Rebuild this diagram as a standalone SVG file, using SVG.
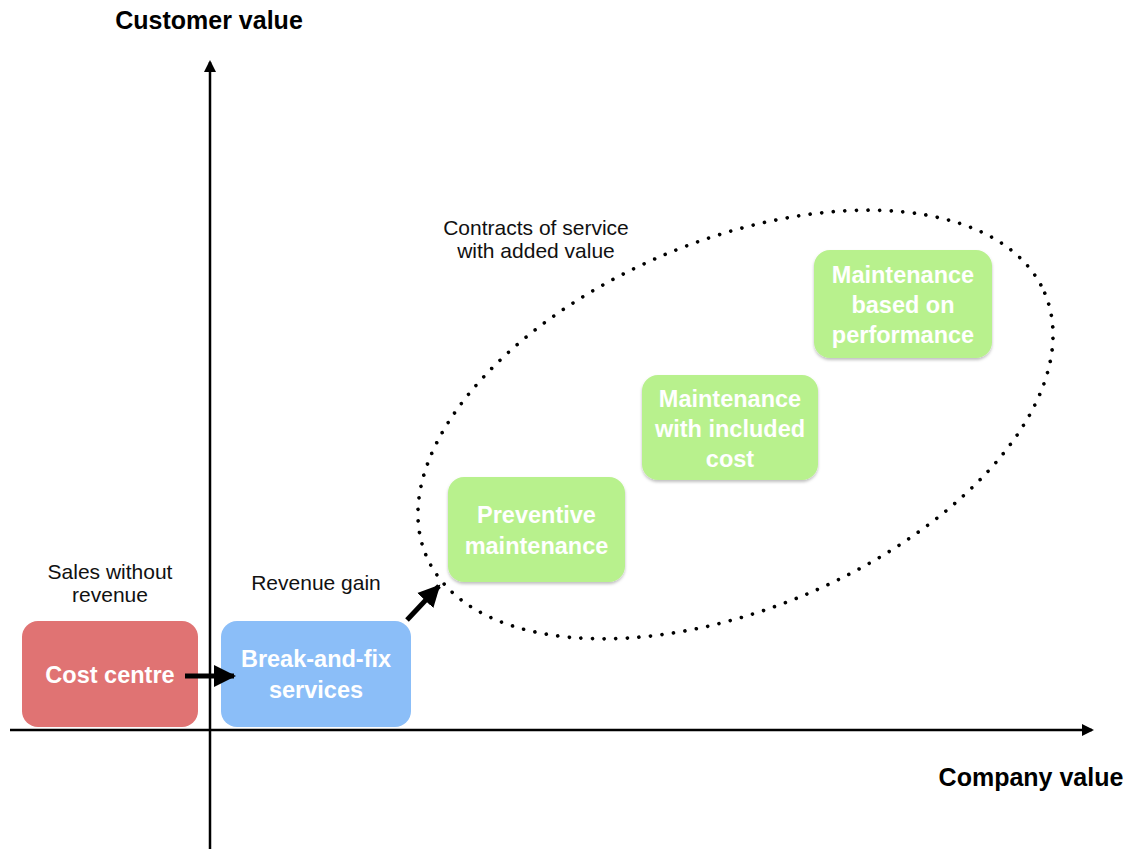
<svg xmlns="http://www.w3.org/2000/svg" width="1131" height="849" viewBox="0 0 1131 849">
<style>
.lbl{font-family:"Liberation Sans",Arial,sans-serif;font-size:21px;fill:#111;text-anchor:middle}
.axis{font-family:"Liberation Sans",Arial,sans-serif;font-size:25px;font-weight:bold;fill:#000;text-anchor:middle}
.nt{font-family:"Liberation Sans",Arial,sans-serif;font-size:23.5px;font-weight:bold;fill:#fff;text-anchor:middle}
.ax{stroke:#000;stroke-width:2.5;fill:none}
.conn{stroke:#000;stroke-width:5;fill:none}
</style>
<defs>
<marker id="axh" markerWidth="12" markerHeight="12" refX="10" refY="6" orient="auto" markerUnits="userSpaceOnUse"><path d="M0,0 L12,6 L0,12 Z" fill="#000"/></marker>
<marker id="ah" markerWidth="24" markerHeight="24" refX="20" refY="12" orient="auto" markerUnits="userSpaceOnUse"><path d="M0,1 L22,12 L0,23 Z" fill="#000"/></marker>
<filter id="sh" x="-10%" y="-10%" width="120%" height="130%"><feDropShadow dx="0" dy="2" stdDeviation="1.5" flood-color="#000" flood-opacity="0.25"/></filter>
</defs>
<rect width="1131" height="849" fill="#fff"/>
<g id="axes">
<line class="ax" x1="210" y1="849" x2="210" y2="62" marker-end="url(#axh)"/>
<line class="ax" x1="10" y1="730" x2="1092" y2="730" marker-end="url(#axh)"/>
<text class="axis" x="209" y="29">Customer value</text>
<text class="axis" x="1031" y="786">Company value</text>
</g>
<g id="contracts-group">
<ellipse cx="735.5" cy="424.5" rx="336" ry="184" transform="rotate(-23 735.5 424.5)" fill="none" stroke="#000" stroke-width="3.6" stroke-linecap="round" stroke-dasharray="0 11.6"/>
<text class="lbl" x="536" y="235">Contracts of service</text>
<text class="lbl" x="536" y="258">with added value</text>
</g>
<g id="label-sales">
<text class="lbl" x="110" y="579">Sales without</text>
<text class="lbl" x="110" y="602">revenue</text>
</g>
<g id="label-revenue">
<text class="lbl" x="316" y="590">Revenue gain</text>
</g>
<g id="cost-centre">
<rect x="22" y="621" width="176" height="106" rx="16" fill="#E07373"/>
<text class="nt" x="110" y="683">Cost centre</text>
</g>
<g id="break-and-fix">
<rect x="221" y="621" width="190" height="106" rx="16" fill="#8BBEF8"/>
<text class="nt" x="316" y="667">Break-and-fix</text>
<text class="nt" x="316" y="698">services</text>
</g>
<g id="preventive">
<rect x="448" y="477" width="177" height="105" rx="16" fill="#B8F18D" filter="url(#sh)"/>
<text class="nt" x="536.5" y="523">Preventive</text>
<text class="nt" x="536.5" y="554">maintenance</text>
</g>
<g id="included-cost">
<rect x="642" y="375" width="176" height="105" rx="16" fill="#B8F18D" filter="url(#sh)"/>
<text class="nt" x="730" y="407">Maintenance</text>
<text class="nt" x="730" y="437">with included</text>
<text class="nt" x="730" y="467">cost</text>
</g>
<g id="performance">
<rect x="814" y="250" width="178" height="108" rx="16" fill="#B8F18D" filter="url(#sh)"/>
<text class="nt" x="903" y="283">Maintenance</text>
<text class="nt" x="903" y="313">based on</text>
<text class="nt" x="903" y="343">performance</text>
</g>
<g id="connectors">
<line class="conn" x1="185" y1="676" x2="234" y2="676" marker-end="url(#ah)"/>
<line class="conn" x1="407" y1="620" x2="439" y2="586" marker-end="url(#ah)"/>
</g>
</svg>
